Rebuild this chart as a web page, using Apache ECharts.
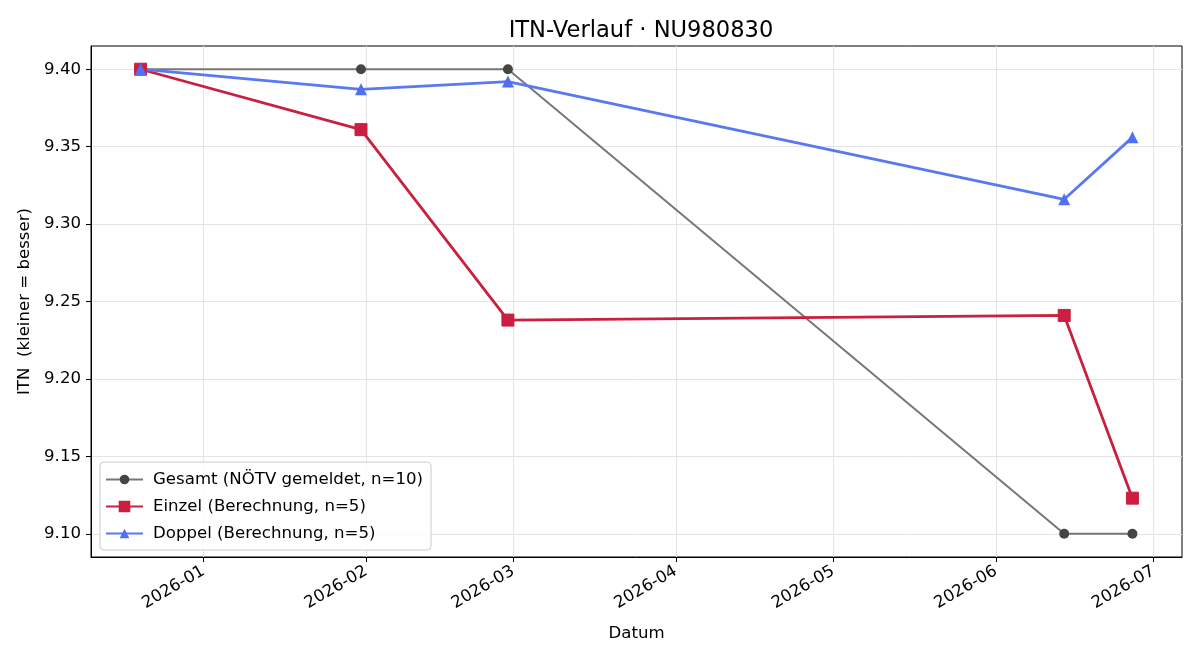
<!DOCTYPE html>
<html>
<head>
<meta charset="utf-8">
<script src="https://cdn.jsdelivr.net/npm/echarts@6/dist/echarts.min.js"></script>
<style>
  html,body{margin:0;padding:0;background:#fff;}
  #chart{width:1200px;height:660px;}
</style>
</head>
<body>
<div id="chart"></div>
<script>
// Messtermine
const dates = ['2025-12-20', '2026-01-31', '2026-02-28', '2026-06-14', '2026-06-27']
// ITN-Werte je Reihe
const gesamt = [9.40, 9.40, 9.40, 9.10, 9.10]
const einzel = [9.40, 9.361, 9.238, 9.241, 9.123]
const doppel = [9.40, 9.387, 9.392, 9.316, 9.356]
// Achsenbeschriftung
const monthTicks = ['2026-01-01', '2026-02-01', '2026-03-01', '2026-04-01', '2026-05-01', '2026-06-01', '2026-07-01']
const yTicks = [9.10, 9.15, 9.20, 9.25, 9.30, 9.35, 9.40]

const seriesNames = ['Gesamt (NÖTV gemeldet, n=10)', 'Einzel (Berechnung, n=5)', 'Doppel (Berechnung, n=5)']

const ts = d => Date.parse(d + 'T00:00:00Z')
const xs = dates.map(ts)
const pairs = arr => arr.map((v, i) => [xs[i], v])

// matplotlib-artige 5% Ränder
const xSpan = xs[xs.length - 1] - xs[0]
const xMin = xs[0] - xSpan * 0.05
const xMax = xs[xs.length - 1] + xSpan * 0.05
const allY = gesamt.concat(einzel, doppel)
const yLo = Math.min(...allY), yHi = Math.max(...allY)
const yMin = yLo - (yHi - yLo) * 0.05
const yMax = yHi + (yHi - yLo) * 0.05

const font = 'DejaVu Sans'
const fs = 16.6
const chart = echarts.init(document.getElementById('chart'))
chart.setOption({
  animation: false,
  backgroundColor: '#fff',
  textStyle: {fontFamily: font},
  title: {
    text: 'ITN-Verlauf · NU980830',
    left: 636,
    textAlign: 'center',
    top: 15,
    textStyle: {fontFamily: font, fontSize: 22.6, fontWeight: 'normal', color: '#000'}
  },
  grid: {
    left: 91, right: 18, top: 46, bottom: 103,
    show: true, borderColor: '#000', borderWidth: 1, backgroundColor: 'transparent'
  },
  legend: {
    orient: 'vertical',
    left: 100,
    top: 462,
    data: seriesNames,
    itemWidth: 37,
    itemHeight: 12,
    itemGap: 10,
    padding: [9, 8, 8, 5],
    borderColor: '#cccccc',
    borderWidth: 1,
    borderRadius: 4,
    backgroundColor: 'rgba(255,255,255,0.85)',
    textStyle: {fontFamily: font, fontSize: fs, color: '#000', padding: [0, 0, 0, 5]}
  },
  xAxis: {
    type: 'value',
    min: xMin,
    max: xMax,
    name: 'Datum',
    nameLocation: 'middle',
    nameGap: 68,
    nameTextStyle: {fontFamily: font, fontSize: fs, color: '#000'},
    axisLine: {show: true, lineStyle: {color: '#000'}},
    axisTick: {show: true, length: 5, lineStyle: {color: '#000'}, customValues: monthTicks.map(ts)},
    axisLabel: {
      customValues: monthTicks.map(ts),
      rotate: 30,
      margin: 13,
      fontFamily: font,
      fontSize: fs,
      color: '#000',
      formatter: v => new Date(v).toISOString().slice(0, 7)
    },
    splitLine: {show: true, lineStyle: {color: '#e4e4e4', width: 1}}
  },
  yAxis: {
    type: 'value',
    min: yMin,
    max: yMax,
    name: 'ITN  (kleiner = besser)',
    nameLocation: 'middle',
    nameGap: 57,
    nameTextStyle: {fontFamily: font, fontSize: fs, color: '#000'},
    axisLine: {show: true, lineStyle: {color: '#000'}},
    axisTick: {show: true, length: 5, lineStyle: {color: '#000'}, customValues: yTicks},
    axisLabel: {
      customValues: yTicks,
      margin: 10,
      fontFamily: font,
      fontSize: fs,
      color: '#000',
      formatter: v => v.toFixed(2)
    },
    splitLine: {show: true, lineStyle: {color: '#e4e4e4', width: 1}}
  },
  series: [
    {
      name: seriesNames[0],
      type: 'line',
      data: pairs(gesamt),
      symbol: 'circle',
      symbolSize: 10,
      itemStyle: {color: '#454545'},
      lineStyle: {color: '#777777', width: 2}
    },
    {
      name: seriesNames[1],
      type: 'line',
      data: pairs(einzel),
      symbol: 'rect',
      symbolSize: 12,
      itemStyle: {color: '#cc1d42', borderColor: '#c8213f', borderWidth: 1},
      lineStyle: {color: '#c8213f', width: 2.8}
    },
    {
      name: seriesNames[2],
      type: 'line',
      data: pairs(doppel),
      symbol: 'triangle',
      symbolSize: 12,
      itemStyle: {color: '#4f70f2'},
      lineStyle: {color: '#5a78f0', width: 2.8}
    }
  ]
})
</script>
</body>
</html>
